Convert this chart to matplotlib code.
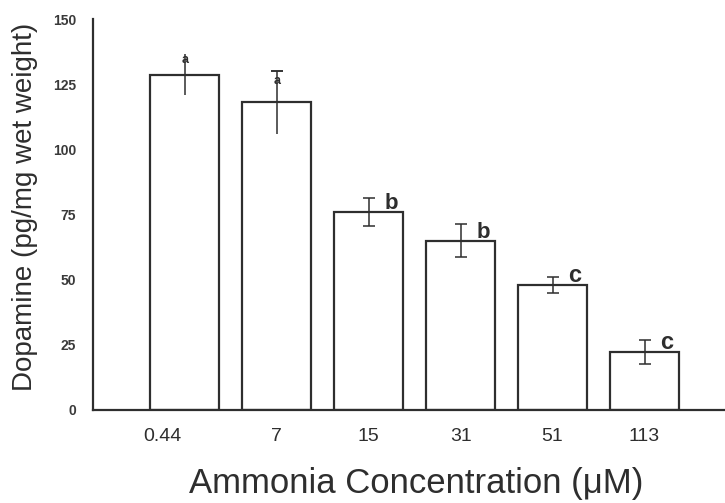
import matplotlib
matplotlib.use("Agg")
import matplotlib.pyplot as plt
import matplotlib.transforms as mtransforms
import numpy as np

plt.rcParams['font.family'] = ['Liberation Sans', 'DejaVu Sans']

# data
concentrations = ['0.44', '7', '15', '31', '51', '113']
dopamine = [128.7, 118.0, 76.0, 65.0, 48.0, 22.2]
errors = [8.0, 12.0, 5.5, 6.3, 3.2, 4.6]
letters = ['a', 'a', 'b', 'b', 'c', 'c']
y_ticks = [0, 25, 50, 75, 100, 125, 150]

ink = '#2e2e2e'

fig = plt.figure(figsize=(7.25, 5.03), dpi=100)
ax = fig.add_axes([0.128, 0.185, 0.872, 0.777])

x = np.arange(len(concentrations))
ax.bar(x, dopamine, width=0.75, color='white', edgecolor=ink, linewidth=1.6)

# first two bars show no lower caps, the rest have both
ax.errorbar(x[:2], dopamine[:2], yerr=errors[:2], fmt='none', ecolor=ink,
            elinewidth=1.1, capsize=0)
ax.errorbar(x[1:2], np.array(dopamine[1:2]) + errors[1], yerr=[[0], [0]],
            fmt='none', ecolor=ink, elinewidth=1.1, capsize=4.5, capthick=1.1)
ax.errorbar(x[2:], dopamine[2:], yerr=errors[2:], fmt='none', ecolor=ink,
            elinewidth=1.1, capsize=4.5, capthick=1.1)

# significance letters
for i, (val, err, let) in enumerate(zip(dopamine, errors, letters)):
    if let == 'a':
        ax.text(i, val + err * 0.7, let, ha='center', va='center',
                fontsize=9, fontweight='bold', color=ink)
    else:
        size = 16 if let == 'b' else 17
        ax.text(i + 0.17, val + 1, let, ha='left', va='baseline',
                fontsize=size, fontweight='bold', color=ink)

ax.set_xlim(-1.0, 5.875)
ax.set_ylim(0, 150)
ax.set_xticks(x)
ax.set_xticklabels(concentrations, fontsize=14, color=ink)
ax.set_yticks(y_ticks)
ax.set_yticklabels([str(t) for t in y_ticks], fontsize=10,
                   fontweight='bold', color='#3a3a3a')
ax.tick_params(axis='both', length=0)
ax.tick_params(axis='y', pad=12)
ax.tick_params(axis='x', pad=13)

# the first label sits a little left of its bar
lbl = ax.get_xticklabels()[0]
lbl.set_transform(lbl.get_transform() +
                  mtransforms.ScaledTranslation(-0.22, 0, fig.dpi_scale_trans))

for side in ['top', 'right']:
    ax.spines[side].set_visible(False)
for side in ['left', 'bottom']:
    ax.spines[side].set_color(ink)
    ax.spines[side].set_linewidth(1.6)

ax.set_ylabel('Dopamine (pg/mg wet weight)', fontsize=20, color=ink)
ax.yaxis.set_label_coords(-0.087, 0.52)
ax.set_xlabel('Ammonia Concentration (\u03bcM)', fontsize=25, color=ink)
ax.xaxis.set_label_coords(0.512, -0.212)
ax.xaxis.label.set_verticalalignment('baseline')

fig.savefig('out.png', dpi=100)
